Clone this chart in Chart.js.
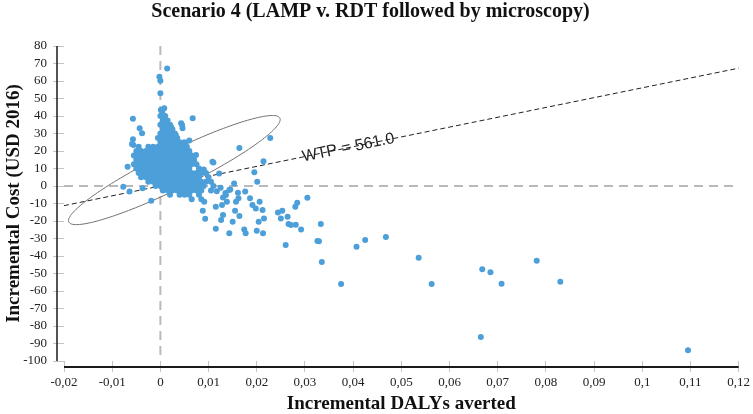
<!DOCTYPE html>
<html>
<head>
<meta charset="utf-8">
<script src="https://cdn.jsdelivr.net/npm/chart.js@4.4.1/dist/chart.umd.min.js"></script>
<style>
  html, body { margin: 0; padding: 0; background: #fff; }
  #wrap { width: 753px; height: 414px; position: relative; }
</style>
</head>
<body>
<div id="wrap"><canvas id="chart"></canvas></div>
<script>
const chartTitle = 'Scenario 4 (LAMP v. RDT followed by microscopy)';
const xTitle = 'Incremental DALYs averted';
const yTitle = 'Incremental Cost (USD 2016)';

const xRange = [-0.02, 0.12];
const xStep = 0.01;
const yRange = [-100, 80];
const yStep = 10;

// willingness-to-pay threshold (USD per DALY averted)
const wtp = 561.0;
const wtpLabel = 'WTP = 561.0';
const wtpLabelAt = 0.039;

// 95% confidence ellipse: centre and two conjugate semi-axes, in data units
const ellipseCenter = [0.0029, 9.1];
const ellipseAxisA = [0.0219, 29.7];
const ellipseAxisB = [0.00169, -9.5];

// dense cloud of simulations near the origin [DALYs averted, cost]
const clusterPoints = [
  [0.0004, 42.5],
  [0, 40], [0.001, 40],
  [0.0005, 37.5], [0.0015, 37.5],
  [0, 35], [0.001, 35], [0.002, 35],
  [0.0005, 32.5], [0.0015, 32.5], [0.0025, 32.5],
  [0, 30], [0.001, 30], [0.002, 30], [0.003, 30],
  [-0.0005, 27.5], [0.0005, 27.5], [0.0015, 27.5], [0.0025, 27.5], [0.0035, 27.5],
  [0, 25], [0.001, 25], [0.002, 25], [0.003, 25], [0.004, 25], [0.005, 25],
  [-0.0045, 22.5], [-0.0025, 22.5], [-0.0015, 22.5], [-0.0005, 22.5], [0.0005, 22.5],
  [0.0015, 22.5], [0.0025, 22.5], [0.0035, 22.5], [0.0045, 22.5], [0.0055, 22.5],
  [-0.005, 20], [-0.004, 20], [-0.003, 20], [-0.002, 20], [-0.001, 20], [0, 20],
  [0.001, 20], [0.002, 20], [0.003, 20], [0.004, 20], [0.005, 20], [0.006, 20],
  [-0.0055, 17.5], [-0.0045, 17.5], [-0.0035, 17.5], [-0.0025, 17.5], [-0.0015, 17.5], [-0.0005, 17.5],
  [0.0005, 17.5], [0.0015, 17.5], [0.0025, 17.5], [0.0035, 17.5], [0.0045, 17.5], [0.0055, 17.5], [0.0065, 17.5],
  [-0.005, 15], [-0.004, 15], [-0.003, 15], [-0.002, 15], [-0.001, 15], [0, 15], [0.001, 15],
  [0.002, 15], [0.003, 15], [0.004, 15], [0.005, 15], [0.006, 15], [0.007, 15],
  [-0.0055, 12.5], [-0.0045, 12.5], [-0.0035, 12.5], [-0.0025, 12.5], [-0.0015, 12.5], [-0.0005, 12.5],
  [0.0005, 12.5], [0.0015, 12.5], [0.0025, 12.5], [0.0035, 12.5], [0.0045, 12.5], [0.0055, 12.5],
  [0.0065, 12.5], [0.0075, 12.5],
  [-0.005, 10], [-0.004, 10], [-0.003, 10], [-0.002, 10], [-0.001, 10], [0, 10], [0.001, 10],
  [0.002, 10], [0.003, 10], [0.004, 10], [0.005, 10], [0.006, 10], [0.008, 10],
  [-0.0045, 7.5], [-0.0035, 7.5], [-0.0025, 7.5], [-0.0015, 7.5], [-0.0005, 7.5], [0.0005, 7.5],
  [0.0015, 7.5], [0.0025, 7.5], [0.0035, 7.5], [0.0045, 7.5], [0.0055, 7.5], [0.0065, 7.5],
  [0.0075, 7.5], [0.0085, 7.5], [0.0095, 7.5],
  [-0.004, 5], [-0.003, 5], [-0.002, 5], [-0.001, 5], [0, 5], [0.001, 5], [0.002, 5], [0.003, 5],
  [0.004, 5], [0.005, 5], [0.006, 5], [0.007, 5], [0.008, 5], [0.010, 5],
  [-0.0025, 2.5], [-0.0015, 2.5], [-0.0005, 2.5], [0.0005, 2.5], [0.0015, 2.5], [0.0025, 2.5],
  [0.0035, 2.5], [0.0045, 2.5], [0.0055, 2.5], [0.0065, 2.5], [0.0075, 2.5], [0.0085, 2.5],
  [0.0095, 2.5], [0.0105, 2.5],
  [-0.001, 0], [0, 0], [0.001, 0], [0.002, 0], [0.003, 0], [0.004, 0], [0.005, 0], [0.006, 0],
  [0.007, 0], [0.008, 0], [0.009, 0], [0.011, 0],
  [0.0005, -2.5], [0.0015, -2.5], [0.0025, -2.5], [0.0035, -2.5], [0.0045, -2.5], [0.0055, -2.5],
  [0.0065, -2.5], [0.0075, -2.5], [0.0085, -2.5], [0.0105, -2.5],
  [0.002, -5], [0.004, -5], [0.005, -5], [0.006, -5], [0.008, -5],
  [0.0065, -7.5], [0.0085, -7.5]
];

// scattered simulations away from the core
const spreadPoints = [
  [0.0014, 67.2], [-0.0002, 62.5], [0, 60.2], [0, 53], [0.0001, 43.4], [0.0008, 44.4],
  [0.0067, 38.7], [0.0045, 34.9], [0.0043, 35.8], [0.0046, 33], [0.0022, 33.9], [0.0032, 29.1],
  [0.006, 26], [0.0074, 17.7], [0.0087, 9], [0.0108, 13.9], [0.0122, 7.2],
  [-0.0057, 38.5], [-0.0043, 33], [-0.0038, 30.1], [-0.0057, 26.7], [-0.0056, 23.4], [-0.0059, 24],
  [-0.0068, 11], [-0.0077, -0.4], [-0.0064, -3.2], [-0.0037, -1.3], [-0.0019, -8.4],
  [0.0228, 27.4], [0.0164, 21.7], [0.011, 13.5], [0.0214, 14.1], [0.009, 9.5], [0.0195, 7.8],
  [0.0201, 2.5], [0.0153, 1.5], [0.0176, -3.2], [0.0161, -3.8], [0.0305, -6.7], [0.0186, -7],
  [0.0206, -9], [0.0157, -9], [0.0162, -7], [0.0138, -9], [0.0128, -10.9], [0.0115, -11.8],
  [0.0091, -9], [0.0088, -14.1], [0.0191, -10.9], [0.0198, -12.8], [0.0212, -13.7], [0.0155, -14.1],
  [0.0284, -9.5], [0.028, -11.8], [0.013, -16.6], [0.0126, -19.4], [0.0093, -18.7], [0.015, -20.4],
  [0.0164, -17.1], [0.0215, -18.5], [0.0204, -20.4], [0.0244, -15.2], [0.0253, -14.1], [0.025, -18.5],
  [0.0264, -17.5], [0.0266, -21.7], [0.0271, -22.3], [0.0281, -22.1], [0.0292, -24.8], [0.0115, -24.4],
  [0.0143, -27], [0.0174, -24.8], [0.0177, -27], [0.02, -25.5], [0.0213, -27], [0.026, -33.7],
  [0.0326, -31.4], [0.0125, -1], [0.0135, -4], [0.0145, -2], [0.013, -6.5], [0.0117, -3],
  [0.0143, -2.3], [0.0136, -5.1],
  [0.0333, -21.7], [0.0329, -31.6], [0.0335, -43.4], [0.0375, -56], [0.0407, -34.7], [0.0425, -30.9],
  [0.0468, -29.1], [0.0536, -41], [0.0563, -56], [0.0668, -47.6], [0.0685, -49.3], [0.0708, -55.8],
  [0.0781, -42.7], [0.083, -54.7], [0.1095, -93.9], [0.0665, -86.3]
];

const serif = "'Liberation Serif', 'Times New Roman', serif";

const toPoints = arr => arr.map(([x, y]) => ({ x, y }));

const fmtX = v => {
  const s = String(+(+v).toFixed(2));
  return s.replace('.', ',');
};

const overlays = {
  id: 'overlays',
  beforeDatasetsDraw(chart) {
    const { ctx, chartArea: { left, right, top, bottom }, scales: { x, y } } = chart;
    ctx.save();

    // dashed zero lines
    const x0 = x.getPixelForValue(0);
    const y0 = y.getPixelForValue(0);
    ctx.strokeStyle = '#b9b9b9';
    ctx.lineWidth = 2;
    ctx.setLineDash([9, 6]);
    ctx.beginPath();
    ctx.moveTo(x0, top);
    ctx.lineTo(x0, bottom);
    ctx.moveTo(left, y0);
    ctx.lineTo(right, y0);
    ctx.stroke();

    // WTP threshold line
    ctx.strokeStyle = '#222';
    ctx.lineWidth = 1;
    ctx.setLineDash([5, 3]);
    ctx.beginPath();
    ctx.moveTo(x.getPixelForValue(xRange[0]), y.getPixelForValue(xRange[0] * wtp));
    ctx.lineTo(x.getPixelForValue(xRange[1]), y.getPixelForValue(xRange[1] * wtp));
    ctx.stroke();

    // confidence ellipse
    ctx.setLineDash([]);
    ctx.strokeStyle = '#707070';
    ctx.lineWidth = 1;
    ctx.beginPath();
    for (let i = 0; i <= 180; i++) {
      const t = i / 180 * Math.PI * 2;
      const dx = ellipseCenter[0] + Math.cos(t) * ellipseAxisA[0] + Math.sin(t) * ellipseAxisB[0];
      const dy = ellipseCenter[1] + Math.cos(t) * ellipseAxisA[1] + Math.sin(t) * ellipseAxisB[1];
      const px = x.getPixelForValue(dx);
      const py = y.getPixelForValue(dy);
      if (i === 0) ctx.moveTo(px, py); else ctx.lineTo(px, py);
    }
    ctx.closePath();
    ctx.stroke();
    ctx.restore();
  },
  afterDraw(chart) {
    const { ctx, chartArea: { left, right, top, bottom }, scales: { x, y } } = chart;
    ctx.save();

    // detached axis lines
    ctx.strokeStyle = '#1a1a1a';
    ctx.lineWidth = 1.5;
    ctx.beginPath();
    ctx.moveTo(left - 7, top);
    ctx.lineTo(left - 7, bottom);
    ctx.stroke();
    ctx.lineWidth = 2;
    ctx.beginPath();
    ctx.moveTo(left, bottom + 6);
    ctx.lineTo(right, bottom + 6);
    ctx.stroke();

    // WTP label along the line
    const ax = x.getPixelForValue(xRange[0]), ay = y.getPixelForValue(xRange[0] * wtp);
    const bx = x.getPixelForValue(xRange[1]), by = y.getPixelForValue(xRange[1] * wtp);
    const angle = Math.atan2(by - ay, bx - ax);
    ctx.translate(x.getPixelForValue(wtpLabelAt), y.getPixelForValue(wtpLabelAt * wtp));
    ctx.rotate(angle);
    ctx.font = "16px 'Liberation Sans', Arial, sans-serif";
    ctx.fillStyle = '#222';
    ctx.textAlign = 'center';
    ctx.textBaseline = 'middle';
    ctx.fillText(wtpLabel, 0, 0);
    ctx.restore();
  }
};

new Chart(document.getElementById('chart'), {
  type: 'scatter',
  data: {
    datasets: [{
      data: toPoints(clusterPoints.concat(spreadPoints)),
      backgroundColor: '#4c9fd8',
      borderWidth: 0,
      pointRadius: 3,
      pointHoverRadius: 3
    }]
  },
  options: {
    responsive: true,
    maintainAspectRatio: false,
    animation: false,
    layout: {
      padding: { left: 0, right: 12, top: 0, bottom: 0 }
    },
    plugins: {
      legend: { display: false },
      tooltip: { enabled: false },
      title: {
        display: true,
        text: chartTitle,
        color: '#111',
        font: { family: serif, size: 20, weight: 'bold' },
        padding: { top: 0, bottom: 22 }
      }
    },
    scales: {
      x: {
        type: 'linear',
        min: xRange[0],
        max: xRange[1],
        border: { display: false },
        grid: { drawOnChartArea: false, drawTicks: true, tickLength: 11, color: '#c4c4c4' },
        ticks: {
          stepSize: xStep,
          padding: 3,
          color: '#222',
          font: { family: serif, size: 13 },
          maxRotation: 0,
          autoSkip: false,
          callback: v => fmtX(v)
        },
        title: {
          display: true,
          text: xTitle,
          color: '#111',
          font: { family: serif, size: 19, weight: 'bold' },
          padding: { top: 0, bottom: -1 }
        },
        afterFit: (scale) => { scale.height = 53; }
      },
      y: {
        type: 'linear',
        min: yRange[0],
        max: yRange[1],
        border: { display: false },
        grid: { drawOnChartArea: false, drawTicks: true, tickLength: 11, color: '#c4c4c4' },
        ticks: {
          stepSize: yStep,
          padding: 6,
          color: '#222',
          font: { family: serif, size: 13 },
          autoSkip: false
        },
        title: {
          display: true,
          text: yTitle,
          color: '#111',
          font: { family: serif, size: 19, weight: 'bold' },
          padding: { top: 2.5, bottom: 0 }
        },
        afterFit: (scale) => { scale.width = 64; }
      }
    }
  },
  plugins: [overlays]
});
</script>
</body>
</html>
